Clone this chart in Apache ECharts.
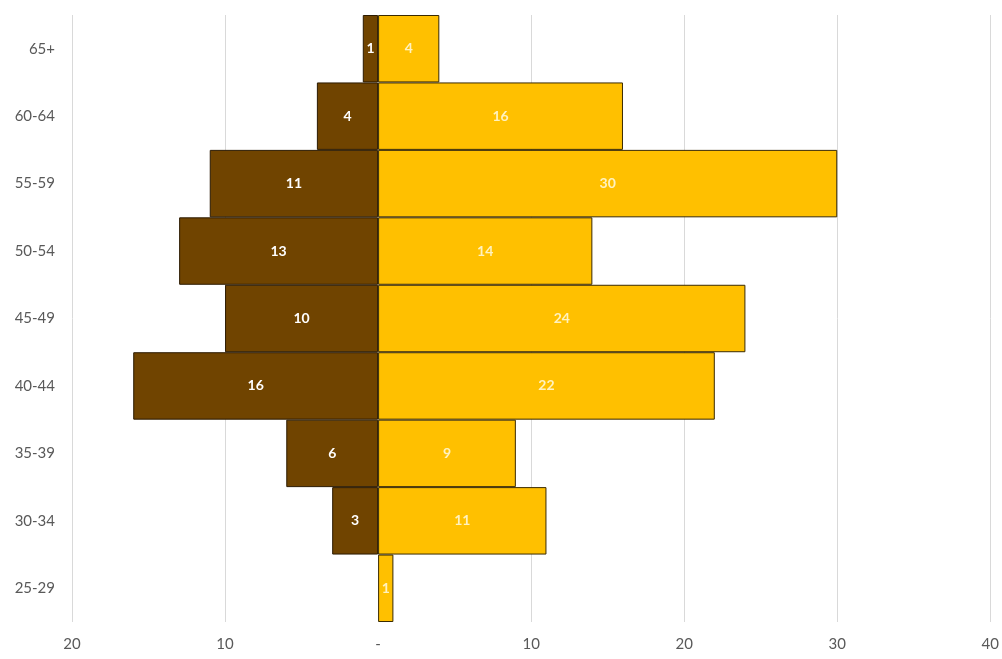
<!DOCTYPE html>
<html>
<head>
<meta charset="utf-8">
<script src="https://cdn.jsdelivr.net/npm/echarts@6/dist/echarts.min.js"></script>
<style>
html,body{margin:0;padding:0;background:#fff;}
#c{width:1002px;height:659px;}
</style>
</head>
<body>
<div id="c"></div>
<script>
var categories = ['25-29','30-34','35-39','40-44','45-49','50-54','55-59','60-64','65+'];
var leftValues = [0, 3, 6, 16, 10, 13, 11, 4, 1];
var rightValues = [1, 11, 9, 22, 24, 14, 30, 16, 4];
var xTicks = [-20, -10, 0, 10, 20, 30, 40];

var chart = echarts.init(document.getElementById('c'));
var font = 'Lato, "Open Sans", sans-serif';
chart.setOption({
  animation: false,
  grid: {left: 72, right: 11, top: 15, bottom: 37, containLabel: false},
  xAxis: {
    type: 'value', min: xTicks[0], max: xTicks[xTicks.length - 1], interval: 10,
    axisLine: {show: false}, axisTick: {show: false},
    splitLine: {show: true, lineStyle: {color: '#d9d9d9', width: 1}},
    axisLabel: {
      color: '#595959', fontSize: 15, fontFamily: font, margin: 15,
      formatter: function (v) { return v === 0 ? '-' : String(Math.abs(v)); }
    }
  },
  yAxis: {
    type: 'category', data: categories,
    axisLine: {show: false}, axisTick: {show: false},
    axisLabel: {color: '#595959', fontSize: 15, fontFamily: font, margin: 17}
  },
  series: [
    {
      name: 'left', type: 'bar', stack: 'a', barWidth: '100%',
      data: leftValues.map(function (v) { return v === 0 ? null : -v; }),
      itemStyle: {color: '#704400', borderColor: '#2b1a00', borderWidth: 1},
      label: {
        show: true, position: 'inside', color: '#ffffff', fontWeight: 'bold',
        fontSize: 14, fontFamily: font,
        formatter: function (p) { return Math.abs(p.value); }
      }
    },
    {
      name: 'right', type: 'bar', stack: 'a', barWidth: '100%',
      data: rightValues,
      itemStyle: {color: '#ffc000', borderColor: '#3a2a00', borderWidth: 1},
      label: {
        show: true, position: 'inside', color: '#fff2c0', fontWeight: 'bold',
        fontSize: 14, fontFamily: font
      }
    }
  ]
});
</script>
</body>
</html>
